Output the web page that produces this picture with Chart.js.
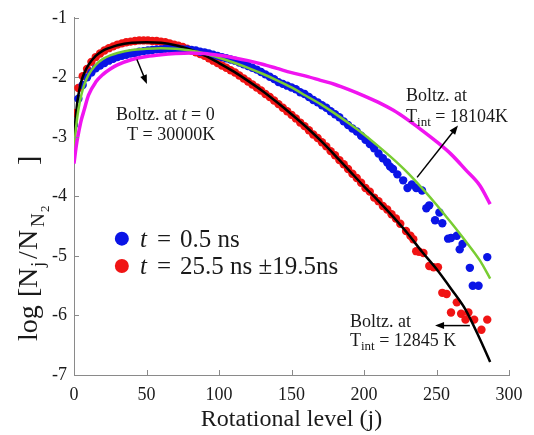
<!DOCTYPE html>
<html>
<head>
<meta charset="utf-8">
<script src="https://cdn.jsdelivr.net/npm/chart.js@4.4.1/dist/chart.umd.min.js"></script>
<style>
  html, body { margin: 0; padding: 0; background: #fff; }
  #chart { display: block; }
</style>
</head>
<body>
<canvas id="chart" width="534" height="435"></canvas>
<script>
// rotational levels for the Boltzmann fits
const jFit = [0, 1, 2, 3, 5, 7, 10, 15, 20, 25, 30, 40, 50, 60, 70, 80, 90, 100, 110, 120, 130, 140, 150, 160, 170, 180, 190, 200, 210, 220, 230, 240, 250, 260, 270, 280, 287];
const boltz12845 = [-3.05, -2.72, -2.47, -2.30, -2.07, -1.93, -1.79, -1.64, -1.55, -1.50, -1.46, -1.42, -1.41, -1.42, -1.46, -1.53, -1.63, -1.76, -1.90, -2.06, -2.23, -2.42, -2.62, -2.83, -3.06, -3.31, -3.57, -3.83, -4.08, -4.34, -4.62, -4.93, -5.22, -5.55, -5.90, -6.40, -6.78];
const boltz18104 = [-3.25, -2.95, -2.72, -2.55, -2.30, -2.13, -1.96, -1.79, -1.69, -1.63, -1.59, -1.54, -1.52, -1.51, -1.52, -1.55, -1.60, -1.67, -1.75, -1.84, -1.94, -2.05, -2.17, -2.31, -2.45, -2.61, -2.78, -2.96, -3.16, -3.37, -3.60, -3.86, -4.14, -4.44, -4.75, -5.08, -5.38];
const boltz30000 = [-3.45, -3.25, -3.08, -2.95, -2.72, -2.55, -2.30, -2.08, -1.95, -1.86, -1.79, -1.70, -1.65, -1.62, -1.60, -1.59, -1.60, -1.63, -1.67, -1.72, -1.78, -1.85, -1.92, -1.98, -2.05, -2.12, -2.21, -2.31, -2.42, -2.55, -2.71, -2.89, -3.08, -3.29, -3.55, -3.82, -4.13];

// measured populations, t = 0.5 ns
const jEarly = [0, 3, 6, 9, 12, 15, 18, 21, 24, 27, 30, 33, 36, 39, 42, 45, 48, 51, 54, 57, 60, 63, 66, 69, 72, 75, 78, 81, 84, 87, 90, 93, 96, 99, 102, 105, 108, 111, 114, 117, 120, 123, 126, 129, 132, 135, 138, 141, 144, 147, 150, 153, 156, 159, 162, 165, 168, 171, 174, 177, 180, 183, 186, 189, 192, 195, 198, 201, 204, 207, 210, 213, 216, 218, 220, 223, 227, 230, 233, 236, 240, 243, 245, 249, 252, 254, 258, 260, 264, 266, 268, 273, 275, 279, 285];
const popEarly = [-2.80, -2.36, -2.13, -2.00, -1.92, -1.85, -1.80, -1.76, -1.72, -1.69, -1.66, -1.64, -1.62, -1.60, -1.59, -1.57, -1.56, -1.55, -1.54, -1.53, -1.53, -1.52, -1.52, -1.52, -1.52, -1.53, -1.53, -1.54, -1.55, -1.57, -1.58, -1.60, -1.62, -1.64, -1.66, -1.68, -1.70, -1.72, -1.75, -1.78, -1.81, -1.84, -1.87, -1.91, -1.95, -1.99, -2.03, -2.08, -2.11, -2.14, -2.17, -2.20, -2.25, -2.28, -2.33, -2.38, -2.42, -2.47, -2.51, -2.57, -2.62, -2.67, -2.74, -2.80, -2.86, -2.91, -2.98, -3.05, -3.12, -3.19, -3.28, -3.36, -3.43, -3.50, -3.54, -3.63, -3.73, -3.86, -3.80, -3.86, -3.90, -4.20, -4.15, -4.40, -4.27, -4.45, -4.71, -4.70, -4.66, -4.89, -4.80, -5.20, -5.50, -5.50, -5.02];

// measured populations, t = 25.5 ns +/- 19.5 ns
const jLate = [0, 3, 6, 9, 12, 15, 18, 21, 24, 27, 30, 33, 36, 39, 42, 45, 48, 51, 54, 57, 60, 63, 66, 69, 72, 75, 78, 81, 84, 87, 90, 93, 96, 99, 102, 105, 108, 111, 114, 117, 120, 123, 126, 129, 132, 135, 138, 141, 144, 147, 150, 153, 156, 159, 162, 165, 168, 171, 174, 177, 180, 183, 186, 189, 192, 195, 198, 201, 204, 207, 210, 213, 216, 219, 222, 225, 229, 232, 234, 236, 238, 241, 245, 248, 251, 254, 257, 260, 264, 267, 270, 272, 276, 281, 285];
const popLate = [-2.60, -2.18, -1.98, -1.86, -1.74, -1.66, -1.60, -1.55, -1.51, -1.48, -1.45, -1.43, -1.41, -1.40, -1.39, -1.38, -1.38, -1.38, -1.39, -1.39, -1.40, -1.41, -1.43, -1.45, -1.47, -1.49, -1.52, -1.55, -1.58, -1.61, -1.64, -1.68, -1.72, -1.76, -1.80, -1.84, -1.88, -1.92, -1.97, -2.02, -2.07, -2.12, -2.17, -2.22, -2.28, -2.33, -2.39, -2.45, -2.51, -2.57, -2.63, -2.69, -2.76, -2.82, -2.89, -2.96, -3.02, -3.09, -3.16, -3.24, -3.31, -3.39, -3.46, -3.54, -3.62, -3.69, -3.77, -3.86, -3.92, -4.02, -4.08, -4.16, -4.22, -4.30, -4.37, -4.46, -4.58, -4.66, -4.72, -4.92, -4.93, -4.95, -5.17, -5.19, -5.19, -5.62, -5.64, -5.95, -5.78, -5.97, -6.07, -5.95, -6.07, -6.24, -6.07];

const xTicks = [0, 50, 100, 150, 200, 250, 300];
const yTicks = [-7, -6, -5, -4, -3, -2, -1];

const SERIF = '"Liberation Serif", "Times New Roman", serif';
const TEXT = '#1a1a1a';
const AXIS = '#8a8a8a';
const BLUE = '#0a14e6';
const RED = '#f01414';

const pts = (xs, ys) => xs.map((x, i) => ({ x: x, y: ys[i] }));

function setFont(ctx, r) {
  ctx.font = (r.italic ? 'italic ' : '') + r.size + 'px ' + SERIF;
}

// draws a row of text pieces (italic / subscript) starting at x;
// a piece with "at" is placed at that offset from the start instead of flowing
function drawRuns(ctx, x, y, runs) {
  ctx.textBaseline = 'alphabetic';
  ctx.textAlign = 'left';
  const x0 = x;
  runs.forEach(r => {
    setFont(ctx, r);
    if (r.at !== undefined) x = x0 + r.at;
    ctx.fillText(r.t, x, y + (r.dy || 0));
    x += ctx.measureText(r.t).width;
  });
  return x;
}

function arrow(ctx, x1, y1, x2, y2) {
  const a = Math.atan2(y2 - y1, x2 - x1);
  const len = 9, half = 3.5;
  ctx.beginPath();
  ctx.moveTo(x1, y1);
  ctx.lineTo(x2 - Math.cos(a) * len * 0.8, y2 - Math.sin(a) * len * 0.8);
  ctx.stroke();
  ctx.beginPath();
  ctx.moveTo(x2, y2);
  ctx.lineTo(x2 - Math.cos(a) * len - Math.sin(a) * half, y2 - Math.sin(a) * len + Math.cos(a) * half);
  ctx.lineTo(x2 - Math.cos(a) * len + Math.sin(a) * half, y2 - Math.sin(a) * len - Math.cos(a) * half);
  ctx.closePath();
  ctx.fill();
}

// inward ticks, y label with subscripts, legend and the fit annotations
const decorations = {
  id: 'decorations',
  afterDraw(chart) {
    const ctx = chart.ctx;
    const xs = chart.scales.x, ys = chart.scales.y;
    const area = chart.chartArea;
    const px = v => xs.getPixelForValue(v);
    const py = v => ys.getPixelForValue(v);

    ctx.save();
    ctx.strokeStyle = AXIS;
    ctx.lineWidth = 1;
    xTicks.forEach(t => {
      const x = Math.round(px(t)) + 0.5;
      ctx.beginPath();
      ctx.moveTo(x, area.bottom);
      ctx.lineTo(x, area.bottom - 5);
      ctx.stroke();
    });
    yTicks.forEach(t => {
      const y = Math.round(py(t)) + 0.5;
      ctx.beginPath();
      ctx.moveTo(area.left, y);
      ctx.lineTo(area.left + 5, y);
      ctx.stroke();
    });

    // y axis title, read bottom to top
    ctx.fillStyle = TEXT;
    ctx.translate(37, 343);
    ctx.rotate(-Math.PI / 2);
    drawRuns(ctx, 0, 0, [
      { t: 'log', size: 28, at: 2 },
      { t: '[', size: 28, at: 46 },
      { t: 'N', size: 28, at: 55 },
      { t: 'j', size: 19, dy: 7, at: 76 },
      { t: '/', size: 28, at: 84 },
      { t: 'N', size: 28, at: 93 },
      { t: 'N', size: 19, dy: 7, at: 116 },
      { t: '2', size: 13, dy: 12, at: 131 },
      { t: ']', size: 28, at: 178 }
    ]);
    ctx.setTransform(1, 0, 0, 1, 0, 0);

    // legend
    const legend = [
      { color: BLUE, y: -4.71, rest: '0.5 ns' },
      { color: RED, y: -5.17, rest: '25.5 ns \u00b119.5ns' }
    ];
    legend.forEach(item => {
      const cy = py(item.y);
      ctx.fillStyle = item.color;
      ctx.beginPath();
      ctx.arc(px(33), cy, 7, 0, Math.PI * 2);
      ctx.fill();
      ctx.fillStyle = TEXT;
      drawRuns(ctx, px(45.5), cy + 8, [
        { t: 't', size: 25, italic: true, at: 0 },
        { t: '=', size: 25, at: 17 },
        { t: item.rest, size: 25, at: 40 }
      ]);
    });

    // fit annotations
    ctx.fillStyle = TEXT;
    drawRuns(ctx, px(29), py(-2.61) + 6, [
      { t: 'Boltz. at ', size: 18 }, { t: 't', size: 18, italic: true }, { t: ' = 0', size: 18 }
    ]);
    drawRuns(ctx, px(36.6), py(-2.96) + 6, [{ t: 'T = 30000K', size: 18 }]);

    drawRuns(ctx, px(229), py(-2.30) + 6, [{ t: 'Boltz. at', size: 18 }]);
    drawRuns(ctx, px(229), py(-2.65) + 6, [
      { t: 'T', size: 18 }, { t: 'int', size: 13, dy: 4 }, { t: ' = 18104K', size: 18 }
    ]);

    drawRuns(ctx, px(190.3), py(-6.09) + 6, [{ t: 'Boltz. at', size: 18 }]);
    drawRuns(ctx, px(190.3), py(-6.42) + 6, [
      { t: 'T', size: 18 }, { t: 'int', size: 13, dy: 4 }, { t: ' = 12845 K', size: 18 }
    ]);

    ctx.strokeStyle = '#000';
    ctx.fillStyle = '#000';
    ctx.lineWidth = 1.5;
    arrow(ctx, px(43.4), py(-1.70), px(50.3), py(-2.11));
    arrow(ctx, px(236.6), py(-3.68), px(264.8), py(-2.81));
    arrow(ctx, px(273), py(-6.17), px(249), py(-6.17));
    ctx.restore();
  }
};

const lineSet = (label, xs, ys, color, width) => ({
  label: label,
  data: pts(xs, ys),
  showLine: true,
  borderColor: color,
  borderWidth: width,
  pointRadius: 0,
  cubicInterpolationMode: 'monotone',
  fill: false,
  order: 1
});

const dotSet = (label, xs, ys, color) => ({
  label: label,
  data: pts(xs, ys),
  showLine: false,
  backgroundColor: color,
  borderColor: color,
  borderWidth: 0,
  pointRadius: 4.2,
  order: 2
});

new Chart(document.getElementById('chart'), {
  type: 'scatter',
  data: {
    datasets: [
      lineSet('Boltz. T = 30000K', jFit, boltz30000, '#f014f0', 3.5),
      lineSet('Boltz. Tint = 18104K', jFit, boltz18104, '#78cd32', 2.5),
      lineSet('Boltz. Tint = 12845 K', jFit, boltz12845, '#000000', 2.5),
      dotSet('t = 0.5 ns', jEarly, popEarly, BLUE),
      dotSet('t = 25.5 ns', jLate, popLate, RED)
    ]
  },
  options: {
    responsive: false,
    animation: false,
    layout: { padding: { top: 14, right: 25, left: 0, bottom: 0 } },
    plugins: { legend: { display: false }, tooltip: { enabled: false } },
    scales: {
      x: {
        type: 'linear',
        min: 0,
        max: 300,
        afterBuildTicks: s => { s.ticks = xTicks.map(v => ({ value: v })); },
        afterFit: s => { s.height = 60; },
        ticks: { color: TEXT, font: { family: SERIF, size: 18 }, padding: 9, maxRotation: 0 },
        grid: { display: false, drawTicks: false },
        border: { display: true, color: AXIS, width: 1 },
        title: {
          display: true,
          text: 'Rotational level (j)',
          color: TEXT,
          font: { family: SERIF, size: 24 },
          padding: { top: 0, bottom: 1 }
        }
      },
      y: {
        min: -7,
        max: -1,
        afterBuildTicks: s => { s.ticks = yTicks.map(v => ({ value: v })); },
        afterFit: s => { s.width = 74; },
        ticks: { color: TEXT, font: { family: SERIF, size: 18 }, padding: 7 },
        grid: { display: false, drawTicks: false },
        border: { display: true, color: AXIS, width: 1 }
      }
    }
  },
  plugins: [decorations]
});
</script>
</body>
</html>
